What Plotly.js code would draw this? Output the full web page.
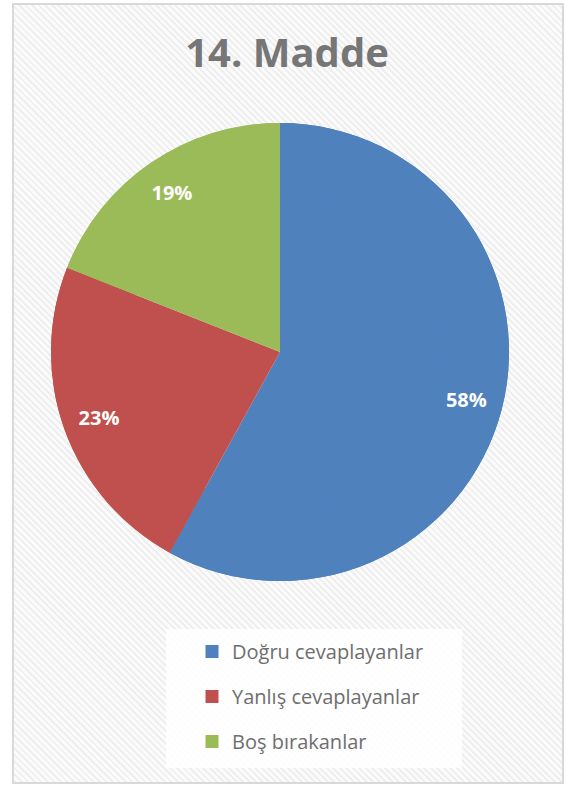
<!DOCTYPE html>
<html>
<head>
<meta charset="utf-8">
<script src="https://cdn.plot.ly/plotly-3.0.1.min.js"></script>
<style>
  html, body { margin:0; padding:0; background:#ffffff; }
  #frame {
    position:absolute; left:12px; top:3px; width:548px; height:777px;
    border:2px solid #d9d9d9;
    background: repeating-linear-gradient(45deg, #efefef 0px, #efefef 2px, #fbfbfb 2px, #fbfbfb 4.6px);
  }
  #chart { position:absolute; left:0; top:0; width:566px; height:785px; }
</style>
</head>
<body>
<div id="frame"></div>
<div id="chart"></div>
<script>
// Data
var categories = ["Doğru cevaplayanlar", "Yanlış cevaplayanlar", "Boş bırakanlar"];
var values = [58, 23, 19];
var colors = ["#4f81bd", "#c0504d", "#9bbb59"];
var chartTitle = "14. Madde";

var W = 566, H = 785;
var pieDomain = { x: [51 / W, 509 / W], y: [(H - 581) / H, (H - 123) / H] };

var traces = [
  // full pie (slices)
  {
    type: "pie",
    labels: categories,
    values: values,
    sort: false,
    direction: "clockwise",
    rotation: 0,
    marker: { colors: colors, line: { width: 0 } },
    textinfo: "none",
    hoverinfo: "label+percent",
    showlegend: false,
    domain: pieDomain
  },
  // outer ring on top, same slices, carrying the percentage labels further out
  {
    type: "pie",
    labels: categories,
    values: values,
    sort: false,
    direction: "clockwise",
    rotation: 0,
    hole: 0.68,
    marker: { colors: colors, line: { width: 0 } },
    textinfo: "percent",
    textposition: "inside",
    insidetextorientation: "horizontal",
    textfont: { family: "Open Sans", size: 20, color: "#ffffff", weight: "bold" },
    hoverinfo: "label+percent",
    showlegend: false,
    domain: pieDomain
  }
];

// legend entries drawn from the categories and colours
categories.forEach(function (c, i) {
  traces.push({
    type: "scatter",
    mode: "markers",
    x: [null], y: [null],
    name: c,
    legendgroup: "g" + i,
    marker: { symbol: "square", size: 13, color: colors[i], line: { width: 0 } },
    hoverinfo: "skip",
    showlegend: true
  });
});

var layout = {
  width: W, height: H,
  margin: { l: 0, r: 0, t: 0, b: 0 },
  paper_bgcolor: "rgba(0,0,0,0)",
  plot_bgcolor: "rgba(0,0,0,0)",
  title: {
    text: "<b>" + chartTitle + "</b>",
    font: { family: "Open Sans", size: 40, color: "#767676" },
    x: 287 / W, xanchor: "center",
    y: 1 - 53 / H, yanchor: "middle"
  },
  xaxis: { visible: false },
  yaxis: { visible: false },
  showlegend: true,
  legend: {
    x: 192 / W, xanchor: "left",
    y: (H - 632) / H, yanchor: "top",
    bgcolor: "rgba(0,0,0,0)",
    borderwidth: 0,
    traceorder: "grouped",
    tracegroupgap: 16,
    font: { family: "Open Sans", size: 20, color: "#6e6e6e" }
  },
  shapes: [{
    type: "rect", xref: "paper", yref: "paper", layer: "below",
    x0: 166 / W, x1: 462 / W, y0: (H - 768) / H, y1: (H - 629) / H,
    fillcolor: "rgba(255,255,255,0.85)", line: { width: 0 }
  }]
};

Plotly.newPlot("chart", traces, layout, { displayModeBar: false, staticPlot: true });
</script>
</body>
</html>
